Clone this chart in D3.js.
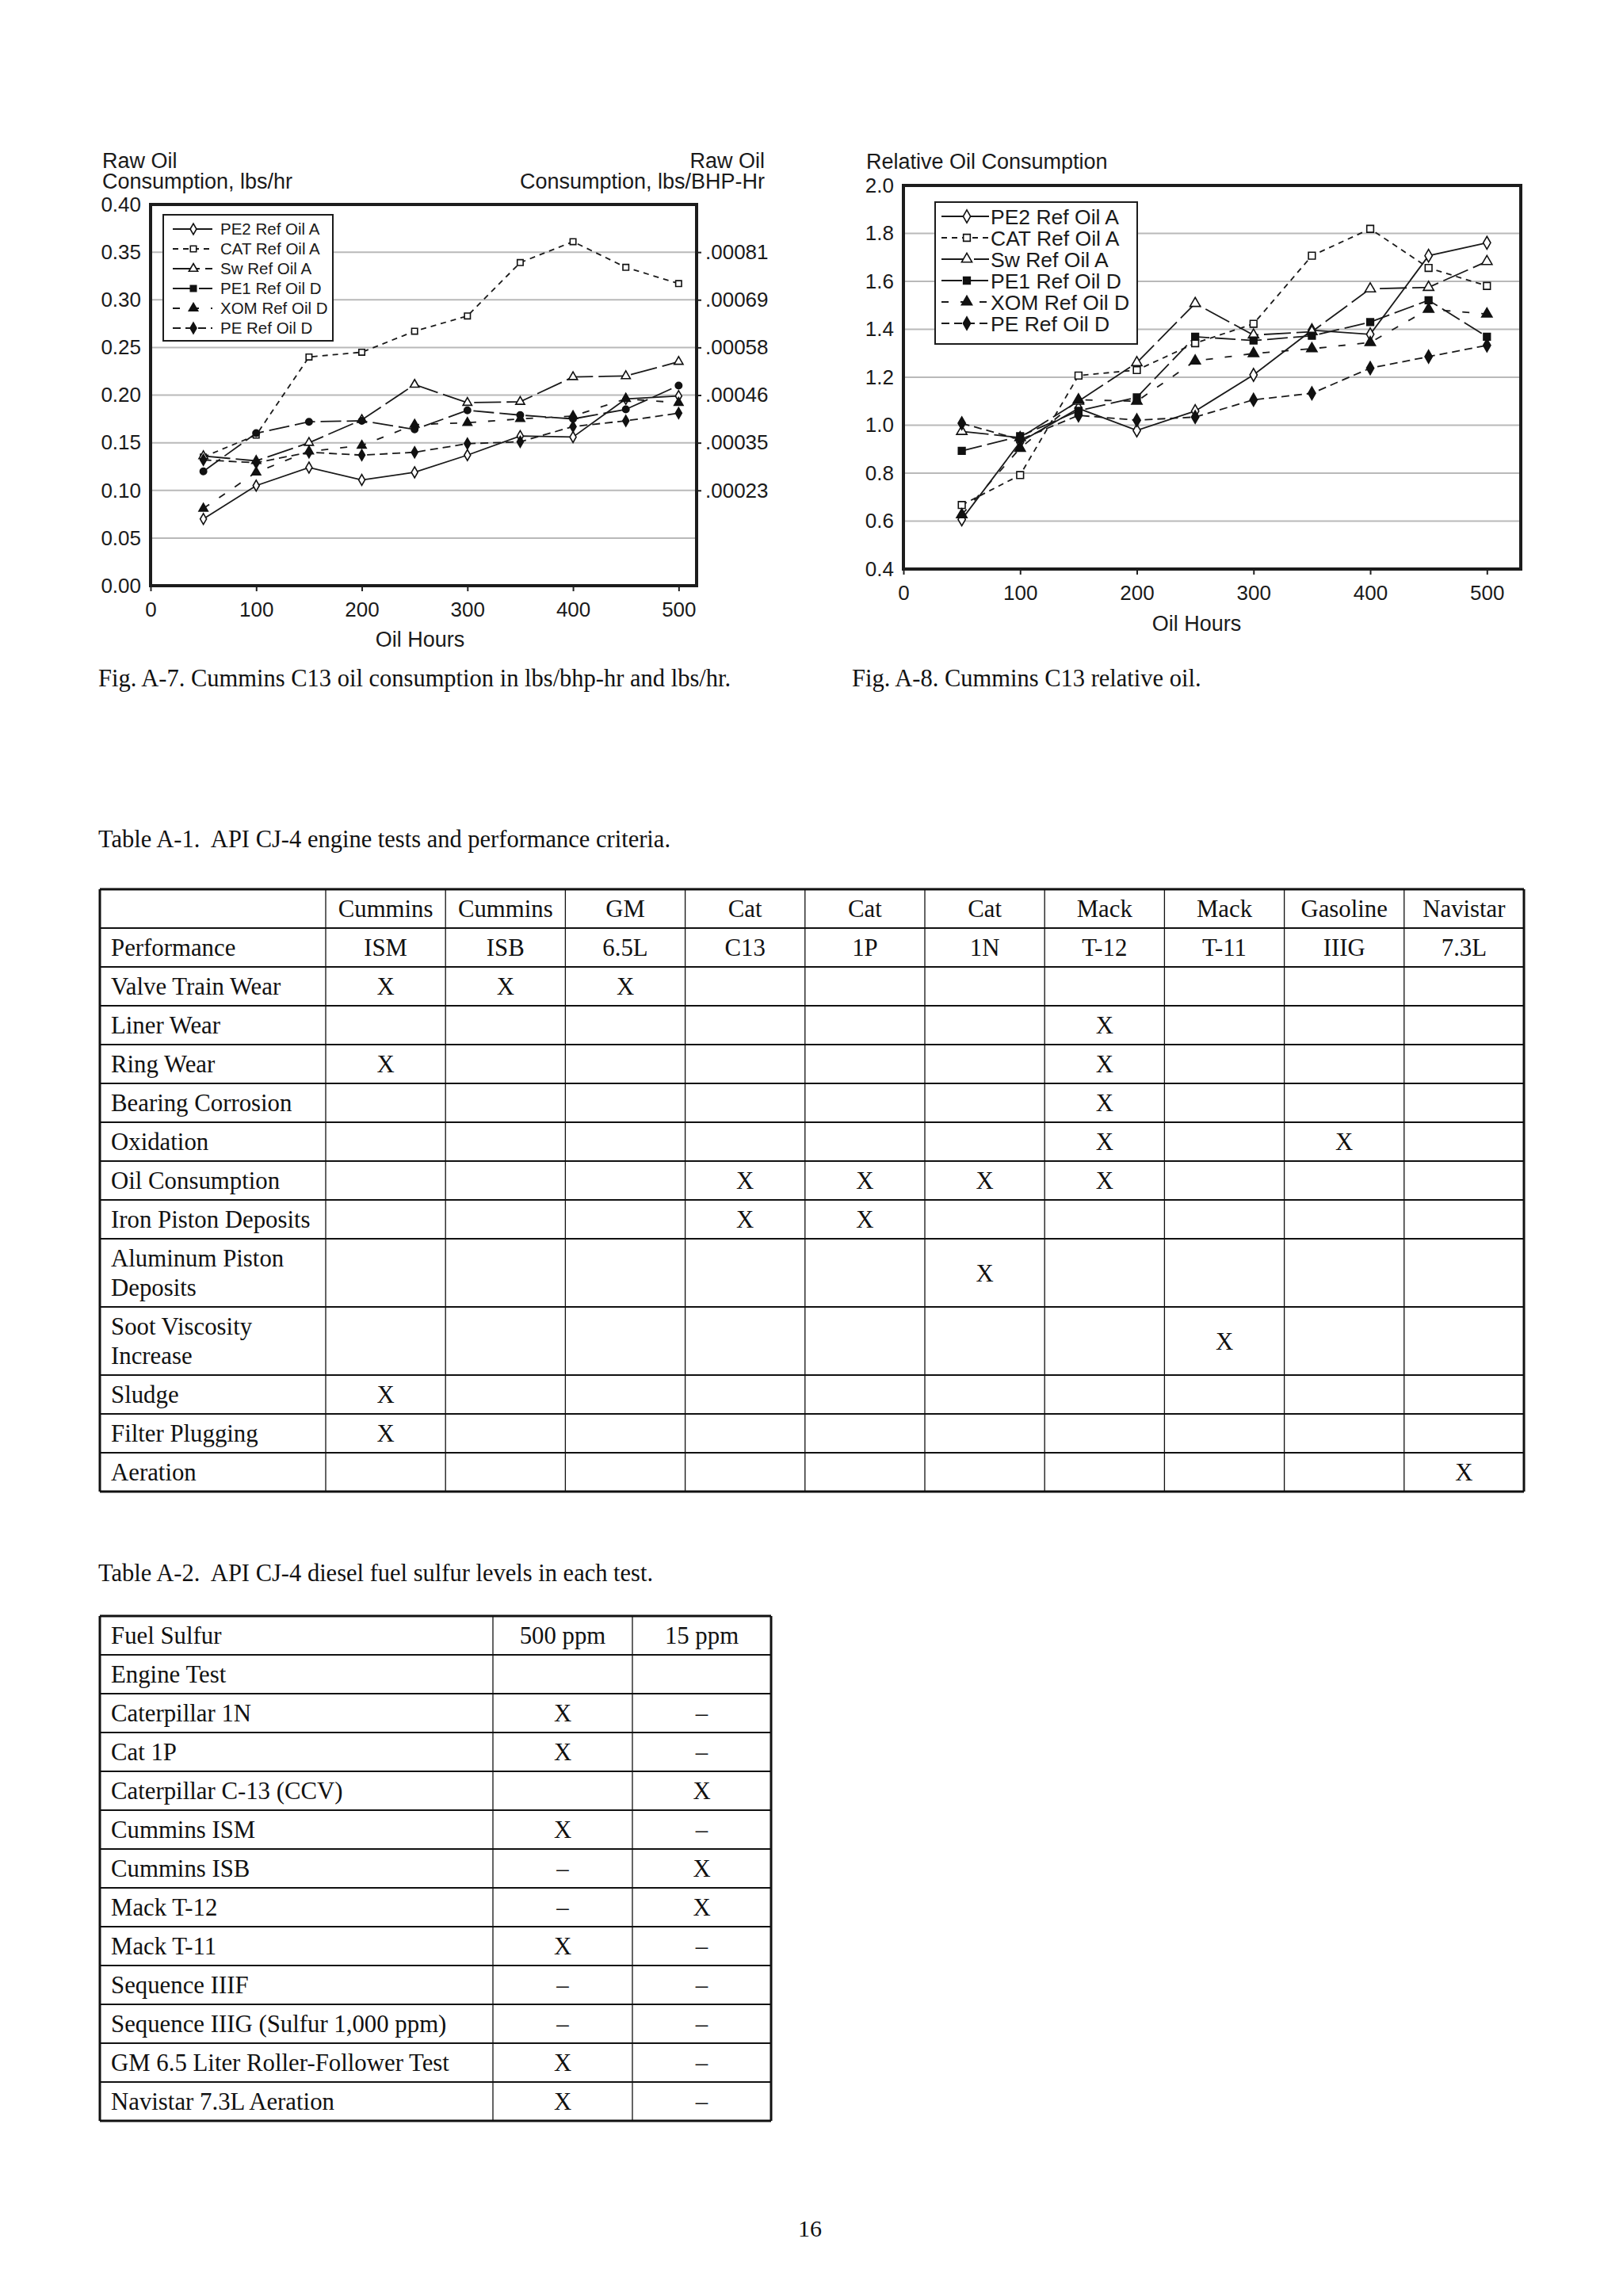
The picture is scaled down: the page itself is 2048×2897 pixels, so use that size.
<!DOCTYPE html>
<html>
<head>
<meta charset="utf-8">
<script src="https://cdn.jsdelivr.net/npm/d3@7"></script>
<style>
  body { margin: 0; background: #fff; }
  .sans { font-family: "Liberation Sans", Arial, sans-serif; fill: #1a1a1a; }
  .serif { font-family: "Liberation Serif", "Times New Roman", serif; fill: #111; white-space: pre; }
</style>
</head>
<body>
<svg id="page" width="2048" height="2897"></svg>
<script>
// ---- data ----
const hours = [50, 100, 150, 200, 250, 300, 350, 400, 450, 500];
const seriesNames = ["PE2 Ref Oil A", "CAT Ref Oil A", "Sw Ref Oil A", "PE1 Ref Oil D", "XOM Ref Oil D", "PE Ref Oil D"];

// Fig A-7, raw oil consumption lbs/hr
const rawPE2A = [0.070, 0.105, 0.124, 0.111, 0.119, 0.137, 0.157, 0.156, 0.196, 0.199];
const rawCATA = [0.135, 0.158, 0.240, 0.245, 0.267, 0.283, 0.339, 0.361, 0.334, 0.317];
const rawSwA  = [0.136, 0.131, 0.150, 0.174, 0.211, 0.192, 0.193, 0.219, 0.220, 0.235];
const rawPE1D = [0.120, 0.160, 0.172, 0.173, 0.164, 0.184, 0.179, 0.175, 0.185, 0.210];
const rawXOMD = [0.081, 0.119, 0.141, 0.147, 0.169, 0.171, 0.175, 0.178, 0.196, 0.192];
const rawPED  = [0.132, 0.129, 0.140, 0.137, 0.140, 0.149, 0.151, 0.167, 0.173, 0.181];
const rawTicks = [0, 0.05, 0.10, 0.15, 0.20, 0.25, 0.30, 0.35, 0.40];
const bhpTicks = [0.10, 0.15, 0.20, 0.25, 0.30, 0.35];
const bhpLabels = [".00023", ".00035", ".00046", ".00058", ".00069", ".00081"];

// Fig A-8, relative oil consumption
const relPE2A = [0.607, 0.930, 1.070, 0.978, 1.059, 1.210, 1.396, 1.379, 1.707, 1.761];
const relCATA = [0.667, 0.792, 1.207, 1.230, 1.342, 1.423, 1.707, 1.819, 1.656, 1.581];
const relSwA  = [0.974, 0.948, 1.100, 1.261, 1.508, 1.376, 1.390, 1.569, 1.575, 1.683];
const relPE1D = [0.893, 0.954, 1.060, 1.116, 1.369, 1.353, 1.373, 1.430, 1.521, 1.369];
const relXOMD = [0.627, 0.904, 1.106, 1.100, 1.268, 1.299, 1.319, 1.345, 1.484, 1.464];
const relPED  = [1.008, 0.940, 1.041, 1.021, 1.034, 1.106, 1.133, 1.238, 1.286, 1.333];
const relTicks = [0.4, 0.6, 0.8, 1.0, 1.2, 1.4, 1.6, 1.8, 2.0];
const hourTicks = [0, 100, 200, 300, 400, 500];

// Table A-1
const t1Makers = ["Cummins", "Cummins", "GM", "Cat", "Cat", "Cat", "Mack", "Mack", "Gasoline", "Navistar"];
const t1Tests = ["ISM", "ISB", "6.5L", "C13", "1P", "1N", "T-12", "T-11", "IIIG", "7.3L"];
const t1Criteria = [["Valve Train Wear"], ["Liner Wear"], ["Ring Wear"], ["Bearing Corrosion"], ["Oxidation"],
  ["Oil Consumption"], ["Iron Piston Deposits"], ["Aluminum Piston", "Deposits"], ["Soot Viscosity", "Increase"],
  ["Sludge"], ["Filter Plugging"], ["Aeration"]];
const t1Marks = [[0, 1, 2], [6], [0, 6], [6], [6, 8], [3, 4, 5, 6], [3, 4], [5], [7], [0], [0], [9]];

// Table A-2
const t2Tests = ["Fuel Sulfur", "Engine Test", "Caterpillar 1N", "Cat 1P", "Caterpillar C-13 (CCV)", "Cummins ISM",
  "Cummins ISB", "Mack T-12", "Mack T-11", "Sequence IIIF", "Sequence IIIG (Sulfur 1,000 ppm)",
  "GM 6.5 Liter Roller-Follower Test", "Navistar 7.3L Aeration"];
const t2At500 = ["500 ppm", "", "X", "X", "", "X", "–", "–", "X", "–", "–", "X", "X"];
const t2At15 = ["15 ppm", "", "–", "–", "X", "–", "X", "X", "–", "–", "–", "–", "–"];

// ---- styles ----
const lineStyles = [
  { dash: null, sym: d3.symbolDiamond, fill: "#fff" },
  { dash: "7,6", sym: d3.symbolSquare, fill: "#fff" },
  { dash: "34,7", sym: d3.symbolTriangle, fill: "#fff" },
  { dash: "26,7", sym: d3.symbolSquare, fill: "#111" },
  { dash: "9,15", sym: d3.symbolTriangle, fill: "#111" },
  { dash: "10,6", sym: d3.symbolDiamond, fill: "#111" }
];

const svg = d3.select("#page");

function drawChart(opt) {
  const g = svg.append("g");
  const x = d3.scaleLinear().domain([0, opt.xMax]).range([opt.left, opt.right]);
  const y = d3.scaleLinear().domain(opt.yDomain).range([opt.bottom, opt.top]);

  // grid
  g.selectAll(".grid").data(opt.yTicks.slice(1, -1)).join("line")
    .attr("x1", opt.left).attr("x2", opt.right)
    .attr("y1", d => y(d)).attr("y2", d => y(d))
    .attr("stroke", "#b9b9b9").attr("stroke-width", 2);

  const yAxis = g.append("g").attr("transform", `translate(${opt.left},0)`)
    .call(d3.axisLeft(y).tickValues(opt.yTicks).tickFormat(opt.yFmt).tickSize(0).tickPadding(12));
  const xAxis = g.append("g").attr("transform", `translate(0,${opt.bottom})`)
    .call(d3.axisBottom(x).tickValues(hourTicks).tickFormat(d3.format("d")).tickSize(7).tickPadding(opt.xPad));
  [yAxis, xAxis].forEach(a => {
    a.select(".domain").remove();
    a.selectAll("text").attr("class", "sans").style("font-size", opt.tickFont + "px").attr("fill", "#1a1a1a");
    a.selectAll("line").attr("stroke", "#222").attr("stroke-width", 2);
  });
  if (opt.right2) {
    const r = g.append("g").attr("transform", `translate(${opt.right},0)`)
      .call(d3.axisRight(y).tickValues(bhpTicks).tickFormat((d, i) => bhpLabels[i]).tickSize(6).tickPadding(5));
    r.select(".domain").remove();
    r.selectAll("text").attr("class", "sans").style("font-size", opt.tickFont + "px").attr("fill", "#1a1a1a");
    r.selectAll("line").attr("stroke", "#222").attr("stroke-width", 2);
  }

  // series
  const line = d3.line().x((d, i) => x(hours[i])).y(d => y(d));
  opt.series.forEach((vals, s) => {
    const st = lineStyles[s];
    g.append("path").attr("d", line(vals)).attr("fill", "none").attr("stroke", "#1a1a1a")
      .attr("stroke-width", 1.8).attr("stroke-dasharray", st.dash);
    const sym = (s === 3 && opt.pe1Circle) ? d3.symbolCircle : st.sym;
    g.selectAll(null).data(vals).join("path")
      .attr("transform", (d, i) => `translate(${x(hours[i])},${y(d)})`)
      .attr("d", d3.symbol().type(sym).size(opt.symSize))
      .attr("fill", st.fill).attr("stroke", "#111").attr("stroke-width", 1.6);
  });

  // frame
  g.append("rect").attr("x", opt.left).attr("y", opt.top)
    .attr("width", opt.right - opt.left).attr("height", opt.bottom - opt.top)
    .attr("fill", "none").attr("stroke", "#1c1c1c").attr("stroke-width", 4);

  // legend
  const L = opt.legend;
  g.append("rect").attr("x", L.x).attr("y", L.y).attr("width", L.w).attr("height", L.h)
    .attr("fill", "#fff").attr("stroke", "#1c1c1c").attr("stroke-width", 2);
  seriesNames.forEach((name, s) => {
    const st = lineStyles[s];
    const cy = L.row0 + s * L.step;
    g.append("line").attr("x1", L.lx1).attr("x2", L.lx2).attr("y1", cy).attr("y2", cy)
      .attr("stroke", "#1a1a1a").attr("stroke-width", 1.8).attr("stroke-dasharray", st.dash);
    g.append("path").attr("transform", `translate(${L.mx},${cy})`)
      .attr("d", d3.symbol().type(st.sym).size(opt.symSize))
      .attr("fill", st.fill).attr("stroke", "#111").attr("stroke-width", 1.6);
    g.append("text").attr("class", "sans").attr("x", L.tx).attr("y", cy).attr("dy", "0.36em")
      .style("font-size", L.font + "px").text(name);
  });

  g.append("text").attr("class", "sans").attr("x", opt.xLabelX).attr("y", opt.xLabelY)
    .attr("text-anchor", "middle").style("font-size", "27px").text("Oil Hours");
  return g;
}

const gA = drawChart({
  left: 190, right: 879, top: 258, bottom: 739, xMax: 517,
  yDomain: [0, 0.4], yTicks: rawTicks, yFmt: d3.format(".2f"),
  tickFont: 26, xPad: 14, symSize: 55, right2: true, pe1Circle: true,
  series: [rawPE2A, rawCATA, rawSwA, rawPE1D, rawXOMD, rawPED],
  legend: { x: 206, y: 271, w: 214, h: 159, row0: 289, step: 25, lx1: 218, lx2: 268, mx: 244, tx: 278, font: 20.5 },
  xLabelX: 530, xLabelY: 816
});
gA.append("text").attr("class", "sans").attr("x", 129).attr("y", 212).style("font-size", "27px").text("Raw Oil");
gA.append("text").attr("class", "sans").attr("x", 129).attr("y", 238).style("font-size", "27px").text("Consumption, lbs/hr");
gA.append("text").attr("class", "sans").attr("x", 965).attr("y", 212).attr("text-anchor", "end").style("font-size", "27px").text("Raw Oil");
gA.append("text").attr("class", "sans").attr("x", 965).attr("y", 238).attr("text-anchor", "end").style("font-size", "27px").text("Consumption, lbs/BHP-Hr");

const gB = drawChart({
  left: 1140, right: 1919, top: 234, bottom: 718, xMax: 529,
  yDomain: [0.4, 2.0], yTicks: relTicks, yFmt: d3.format(".1f"),
  tickFont: 26, xPad: 13.5, symSize: 75, right2: false, pe1Circle: false,
  series: [relPE2A, relCATA, relSwA, relPE1D, relXOMD, relPED],
  legend: { x: 1180, y: 255, w: 255, h: 179, row0: 273, step: 27, lx1: 1188, lx2: 1248, mx: 1220, tx: 1250, font: 26.5 },
  xLabelX: 1510, xLabelY: 796
});
gB.append("text").attr("class", "sans").attr("x", 1093).attr("y", 213).style("font-size", "27px").text("Relative Oil Consumption");

// ---- captions ----
function serifText(x, y, str, size, anchor) {
  return svg.append("text").attr("class", "serif").attr("x", x).attr("y", y)
    .attr("text-anchor", anchor || "start").style("font-size", (size || 30.5) + "px").text(str);
}
serifText(124, 866, "Fig. A-7. Cummins C13 oil consumption in lbs/bhp-hr and lbs/hr.");
serifText(1075, 866, "Fig. A-8. Cummins C13 relative oil.");
serifText(124, 1069, "Table A-1.  API CJ-4 engine tests and performance criteria.");
serifText(124, 1995, "Table A-2.  API CJ-4 diesel fuel sulfur levels in each test.");
serifText(1022, 2822, "16", 30, "middle");

// ---- Table A-1 ----
const tf = "30.8px";
const t1 = { left: 126, top: 1122, first: 285, col: 151.2 };
const t1Rows = [1, 1].concat(t1Criteria.map(c => c.length));
const t1Heights = t1Rows.map(n => n === 1 ? 49 : 86);
const t1Y = [t1.top];
t1Heights.forEach(h => t1Y.push(t1Y[t1Y.length - 1] + h));
const t1X = [t1.left, t1.left + t1.first];
t1Makers.forEach((m, i) => t1X.push(t1.left + t1.first + (i + 1) * t1.col));
const colMid = i => t1.left + t1.first + (i + 0.5) * t1.col;
const g1 = svg.append("g");
g1.selectAll(".h").data(t1Y).join("line")
  .attr("x1", t1X[0]).attr("x2", t1X[t1X.length - 1]).attr("y1", d => d).attr("y2", d => d)
  .attr("stroke", "#111").attr("stroke-width", (d, i) => (i === 0 || i === t1Y.length - 1) ? 3 : 2);
g1.selectAll(".v").data(t1X).join("line")
  .attr("x1", d => d).attr("x2", d => d).attr("y1", t1Y[0]).attr("y2", t1Y[t1Y.length - 1])
  .attr("stroke", "#111").attr("stroke-width", (d, i) => (i === 0 || i === t1X.length - 1) ? 3 : 1.3);
t1Makers.forEach((m, i) => {
  g1.append("text").attr("class", "serif").attr("x", colMid(i)).attr("y", t1Y[0] + 35)
    .attr("text-anchor", "middle").style("font-size", tf).text(m);
  g1.append("text").attr("class", "serif").attr("x", colMid(i)).attr("y", t1Y[1] + 35)
    .attr("text-anchor", "middle").style("font-size", tf).text(t1Tests[i]);
});
g1.append("text").attr("class", "serif").attr("x", t1.left + 14).attr("y", t1Y[1] + 35)
  .style("font-size", tf).text("Performance");
t1Criteria.forEach((lines, r) => {
  const top = t1Y[r + 2], h = t1Heights[r + 2];
  lines.forEach((ln, k) => {
    g1.append("text").attr("class", "serif").attr("x", t1.left + 14).attr("y", top + 35 + k * 37)
      .style("font-size", tf).text(ln);
  });
  t1Marks[r].forEach(c => {
    g1.append("text").attr("class", "serif").attr("x", colMid(c)).attr("y", top + h / 2 + 10.5)
      .attr("text-anchor", "middle").style("font-size", tf).text("X");
  });
});

// ---- Table A-2 ----
const t2X = [126, 622, 798, 973];
const t2Y = t2Tests.map((t, i) => 2039 + i * 49).concat([2039 + t2Tests.length * 49]);
const g2 = svg.append("g");
g2.selectAll(".h").data(t2Y).join("line")
  .attr("x1", t2X[0]).attr("x2", t2X[3]).attr("y1", d => d).attr("y2", d => d)
  .attr("stroke", "#111").attr("stroke-width", (d, i) => (i === 0 || i === t2Y.length - 1) ? 3 : 2);
g2.selectAll(".v").data(t2X).join("line")
  .attr("x1", d => d).attr("x2", d => d).attr("y1", t2Y[0]).attr("y2", t2Y[t2Y.length - 1])
  .attr("stroke", "#111").attr("stroke-width", (d, i) => (i === 0 || i === 3) ? 3 : 1.3);
t2Tests.forEach((t, i) => {
  const by = t2Y[i] + 35;
  g2.append("text").attr("class", "serif").attr("x", t2X[0] + 14).attr("y", by).style("font-size", tf).text(t);
  g2.append("text").attr("class", "serif").attr("x", (t2X[1] + t2X[2]) / 2).attr("y", by)
    .attr("text-anchor", "middle").style("font-size", tf).text(t2At500[i]);
  g2.append("text").attr("class", "serif").attr("x", (t2X[2] + t2X[3]) / 2).attr("y", by)
    .attr("text-anchor", "middle").style("font-size", tf).text(t2At15[i]);
});
</script>
</body>
</html>
